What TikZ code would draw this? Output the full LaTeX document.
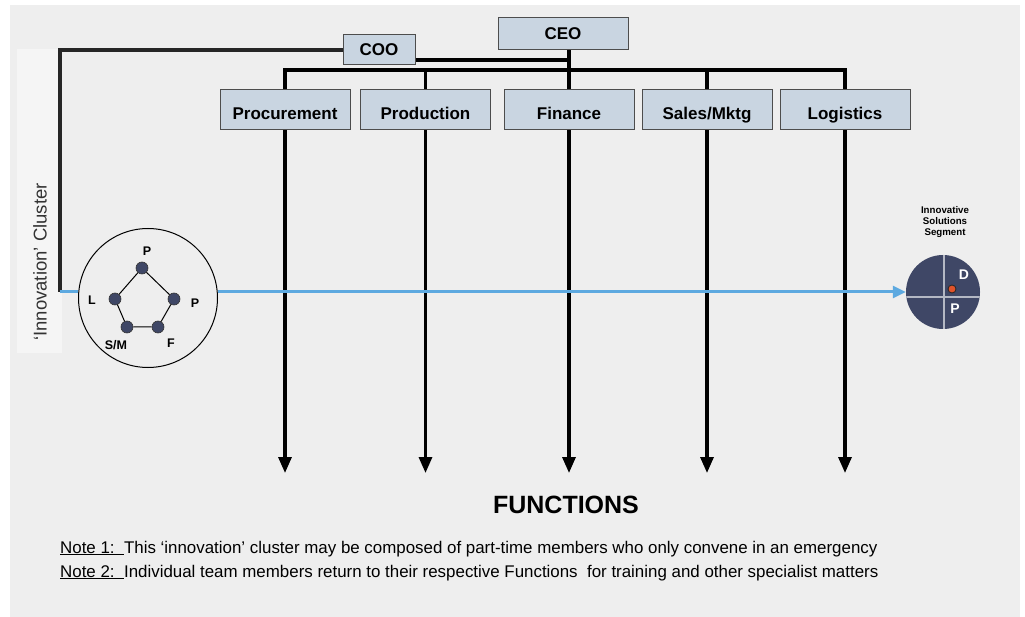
\documentclass[tikz,border=0pt]{standalone}
\usepackage{fontspec}
\setmainfont{Liberation Sans}
\usetikzlibrary{arrows.meta,calc}
\definecolor{bg}{HTML}{EEEEEE}
\definecolor{strip}{HTML}{F5F5F5}
\definecolor{boxfill}{HTML}{C9D5E1}
\definecolor{boxline}{HTML}{4D4D4D}
\definecolor{lblue}{HTML}{5DA9E0}
\definecolor{navy}{HTML}{3F4766}
\definecolor{dotred}{HTML}{E2532A}
\definecolor{crossgray}{HTML}{B4B8C4}
\begin{document}
\begin{tikzpicture}[x=1pt,y=-1pt,
  orgbox/.style={draw=boxline,fill=boxfill,line width=1pt,minimum width=130pt,minimum height=40pt,inner sep=0pt,
    font=\fontsize{17}{20}\selectfont\bfseries},
  funcbox/.style={orgbox,text height=19pt,text depth=0pt},
  conn/.style={line width=3.2pt,black},
  down/.style={conn,-{Triangle[length=16pt,width=13pt]}},
  bluel/.style={line width=3pt,lblue},
  dotn/.style={circle,fill=navy,draw=black!80,line width=0.6pt,minimum size=12pt,inner sep=0pt},
  lbl/.style={font=\fontsize{12.5}{14}\selectfont\bfseries,inner sep=0pt},
  note/.style={font=\fontsize{16.9}{19}\selectfont,anchor=base west,inner sep=0pt}
]
\useasboundingbox (0,0) rectangle (1025,617);
\fill[white] (0,0) rectangle (1025,617);
\fill[bg] (10,5) rectangle (1020,617);
\fill[strip] (17,49) rectangle (62,353);

% org boxes
\node[orgbox,minimum width=130pt,minimum height=32pt] (CEO) at (563,34) {CEO};
\node[orgbox,minimum width=72pt,minimum height=30pt] (COO) at (379,50) {COO};
\node[funcbox] (proc) at (285,110) {Procurement};
\node[funcbox] (prod) at (425.5,110) {Production};
\node[funcbox] (fin) at (569,110) {Finance};
\node[funcbox] (sales) at (707,110) {Sales/Mktg};
\node[funcbox] (logi) at (845,110) {Logistics};

\coordinate (bus) at (0,70);
\draw[conn] (fin.north |- CEO.south) -- (fin.north |- bus);
\draw[conn] ($(COO.east)+(0,10)$) -- (fin.north |- 0,60);
\draw[conn] (proc.north) -- (proc.north |- bus) -- (logi.north |- bus) -- (logi.north);
\draw[conn] (prod.north |- bus) -- (prod.north);
\draw[conn] (fin.north |- bus) -- (fin.north);
\draw[conn] (sales.north |- bus) -- (sales.north);

\foreach \n in {proc,prod,fin,sales,logi}
  \draw[down] (\n.south) -- (\n.south |- 0,473);

% left line to cluster
\coordinate (knee) at (60,292);
\draw[conn,black!85] (COO.west) -| (knee);

% cluster
\node[circle,draw=black,line width=1pt,minimum size=139pt,inner sep=0pt] (cluster) at (148,298) {};
\draw[bluel] (knee) -- (knee -| cluster.west);
\node[dotn] (nP1) at (142,268) {};
\node[dotn] (nP2) at (174,299) {};
\node[dotn] (nL) at (115,299) {};
\node[dotn] (nSM) at (127,327) {};
\node[dotn] (nF) at (158,327) {};
\draw[line width=1pt] (nP1) -- (nP2) -- (nF) -- (nSM) -- (nL) -- (nP1);
\node[lbl] (tP1) at (147,251) {P};
\node[lbl] (tP2) at (195,303) {P};
\node[lbl] (tL) at (92,300) {L};
\node[lbl] (tSM) at (116,345) {S/M};
\node[lbl] (tF) at (171,343) {F};

% segment
\node[circle,fill=navy,minimum size=74pt,inner sep=0pt] (seg) at (943,292) {};
\begin{scope}
  \clip (seg.center) circle (37pt);
  \draw[crossgray,line width=1.3pt] (944,250) -- (944,335);
  \draw[crossgray,line width=1.3pt] (900,297) -- (990,297);
\end{scope}
\node[circle,fill=dotred,draw=black!85,line width=0.8pt,minimum size=8pt,inner sep=0pt] (rdot) at (952,289) {};
\node[lbl,white,font=\fontsize{14}{16}\selectfont\bfseries] (tD) at (964,275) {D};
\node[lbl,white,font=\fontsize{14}{16}\selectfont\bfseries] (tPs) at (955,309) {P};
\node[align=center,font=\fontsize{9.7}{11}\selectfont\bfseries,inner sep=0pt] (segt) at (945,222) {Innovative\\Solutions\\Segment};

\draw[bluel,-{Triangle[length=13pt,width=12pt]}] (cluster.east |- seg) -- (seg.west);

% vertical label
\node[rotate=90,font=\fontsize{18.5}{20}\selectfont,text=black!80,inner sep=0pt] (vlab) at (40,262) {‘Innovation’ Cluster};

% functions and notes
\node[font=\fontsize{25}{29}\selectfont\bfseries,inner sep=0pt] (func) at (566,505) {FUNCTIONS};
\node[note] (n1) at (60,553) {\underline{Note 1:~~}This ‘innovation’ cluster may be composed of part-time members who only convene in an emergency};
\node[note] (n2) at (60,577) {\underline{Note 2:~~}Individual team members return to their respective Functions~~for training and other specialist matters};
\end{tikzpicture}
\end{document}
